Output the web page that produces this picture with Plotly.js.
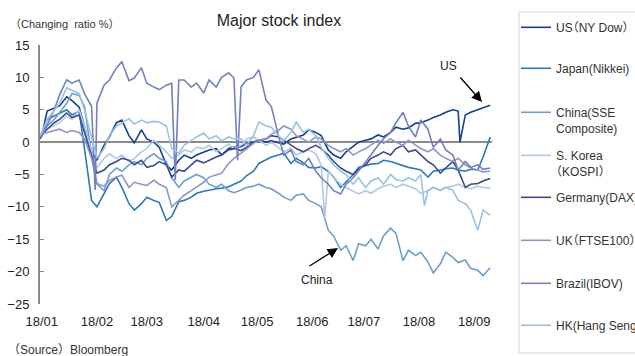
<!DOCTYPE html>
<html><head><meta charset="utf-8">
<script src="https://cdn.plot.ly/plotly-3.0.1.min.js"></script>
<style>body{margin:0;padding:0;background:#fff}#chart{width:635px;height:356px}</style>
</head><body><div id="chart"></div>
<script>
const dates = ['2018-01-01','2018-01-02','2018-01-05','2018-01-09','2018-01-12','2018-01-16','2018-01-19','2018-01-23','2018-01-26','2018-01-30',
'2018-02-02','2018-02-06','2018-02-09','2018-02-13','2018-02-16','2018-02-20','2018-02-23','2018-02-27','2018-03-02','2018-03-06',
'2018-03-09','2018-03-13','2018-03-16','2018-03-20','2018-03-23','2018-03-27','2018-03-30','2018-04-03','2018-04-06','2018-04-10',
'2018-04-13','2018-04-17','2018-04-20','2018-04-24','2018-04-27','2018-05-01','2018-05-04','2018-05-08','2018-05-11','2018-05-15',
'2018-05-18','2018-05-22','2018-05-25','2018-05-29','2018-06-01','2018-06-05','2018-06-08','2018-06-12','2018-06-15','2018-06-19',
'2018-06-22','2018-06-26','2018-06-29','2018-07-03','2018-07-06','2018-07-10','2018-07-13','2018-07-17','2018-07-20','2018-07-24',
'2018-07-27','2018-07-31','2018-08-03','2018-08-07','2018-08-10','2018-08-14','2018-08-17','2018-08-21','2018-08-24','2018-08-28',
'2018-08-31','2018-09-04','2018-09-07','2018-09-11'];

const us = [0.5, 1.0, 4.8, 5.3, 5.6, 7.0, 6.4, 5.4, 2.6, -1.5,
 -2.8, -0.5, 0.8, 3.0, 3.4, 1.0, -0.1, 1.9, 0.5, 0.0,
 -0.8, -3.5, -4.3, -2.8, -2.0, -2.5, -2.0, -1.5, -1.2, -1.0,
 -2.0, -1.0, -0.8, -0.7, -0.2, 0.0, 0.3, 0.0, 0.2, -0.1,
 -0.3, 0.5, 0.8, 1.1, 1.9, 1.5, 1.0, -1.2, -2.0, -2.5,
 -1.5, -0.7, 0.0, 0.3, 0.5, 1.1, 0.8, 1.5, 2.3, 2.0,
 2.2, 2.9, 3.0, 3.4, 3.8, 4.2, 4.6, 5.0, 4.8, 4.2,
 4.6, 5.0, 5.3, 5.7];
const japan = [0.8, 1.0, 3.5, 4.0, 4.5, 5.0, 4.2, 4.8, -1.0, -9.0,
 -10.0, -7.9, -6.4, -5.4, -7.0, -9.5, -10.5, -9.5, -8.5, -9.0,
 -9.3, -12.1, -11.5, -9.2, -9.0, -8.5, -7.9, -7.6, -7.4, -7.2,
 -7.1, -6.9, -6.5, -6.0, -5.2, -4.5, -3.3, -2.8, -2.3, -2.0,
 -1.7, -3.3, -2.5, -3.2, -3.9, -4.0, -3.8, -4.5, -5.4, -7.0,
 -6.2, -5.0, -3.9, -3.6, -3.4, -3.3, -2.8, -3.0, -3.3, -3.6,
 -3.9, -4.1, -4.3, -5.4, -4.5, -4.3, -4.1, -4.0, -4.3, -4.5,
 -4.2, -4.3, -2.3, 0.8];
const china = [0.8, 1.2, 2.5, 3.5, 4.5, 6.0, 7.5, 7.2, 5.5, -2.0,
 -6.5, -7.5, -5.0, -4.0, -4.5, -3.5, -3.0, -3.5, -2.5, -1.8,
 -2.5, -3.0, -5.5, -7.0, -6.0, -5.5, -5.0, -5.5, -6.5, -7.0,
 -6.5, -7.5, -7.8, -7.4, -7.0, -6.8, -6.5, -7.0, -7.2, -7.9,
 -8.5, -9.0, -8.2, -8.0, -9.0, -9.5, -10.0, -13.6, -14.5, -16.7,
 -16.0, -18.3, -15.7, -16.0, -15.0, -16.5, -14.5, -13.3, -14.1, -18.3,
 -16.7, -17.5, -17.0, -18.5, -20.2, -18.8, -17.0, -17.8, -18.6, -18.2,
 -19.5, -19.8, -20.6, -19.4];
const korea = [1.0, 1.5, 2.0, 2.5, 3.0, 4.0, 3.5, 5.0, 2.5, -1.5,
 -4.0, -2.5, -1.8, -2.5, -2.0, -3.0, -2.5, -1.5, -1.0, 0.3,
 -0.5, -1.5, -2.5, -2.0, -1.2, -1.5, -0.8, -1.0, -0.5, -1.5,
 -1.0, -0.3, -1.0, -0.5, 0.5, 0.8, 0.3, -0.5, 0.0, -0.8,
 -1.5, -1.0, -2.0, -1.5, -1.2, -1.8, -3.5, -4.5, -5.5, -6.5,
 -7.0, -7.5, -8.0, -7.5, -7.9, -7.2, -6.8, -6.5, -7.0, -6.5,
 -6.8, -7.2, -7.9, -7.5, -7.0, -7.5, -7.0, -6.8, -6.5, -7.0,
 -7.2, -6.8, -7.0, -7.1];
const germany = [0.8, 1.0, 2.0, 3.0, 3.5, 4.5, 3.8, 4.2, 1.5, -2.0,
 -4.8, -4.3, -3.5, -3.0, -2.5, -2.8, -3.5, -2.8, -3.9, -3.6,
 -3.0, -3.5, -5.4, -4.3, -4.5, -3.5, -2.8, -3.2, -2.8, -2.3,
 -2.0, -1.2, -1.0, -1.3, -0.8, 0.0, 0.3, 0.5, 1.0, 0.8,
 0.3, -0.5, -1.0, -1.5, -1.0, -0.5, -1.0, -2.0, -3.0, -4.0,
 -4.5, -5.0, -4.2, -3.5, -2.5, -2.0, -1.5, -2.0, -1.0, -0.5,
 -1.5, -1.2, -2.0, -3.0, -3.5, -4.8, -4.0, -3.0, -4.3, -7.0,
 -6.5, -6.4, -6.0, -5.6];
const uk = [0.8, 1.2, 1.5, 1.8, 2.0, 1.5, 1.8, 1.5, 0.5, -2.5,
 -6.4, -6.8, -5.9, -5.4, -5.1, -7.0, -6.2, -6.5, -6.7, -5.9,
 -6.5, -7.0, -10.0, -9.0, -8.2, -7.5, -7.0, -6.2, -5.4, -5.0,
 -4.8, -3.3, -2.5, -1.7, -1.0, -0.2, 0.3, 0.5, 1.2, 1.8,
 2.5, 2.0, 1.0, 0.5, 0.0, 0.8, 0.5, -0.5, -1.0, -1.5,
 -1.0, -2.0, -1.5, -1.0, -0.5, 0.3, -0.2, 0.5, 0.0, -0.5,
 0.3, -0.5, -1.0, -1.5, -1.0, -2.0, -2.5, -3.0, -2.5, -3.5,
 -4.0, -4.3, -4.6, -4.5];
const brazil = [0.8, 1.0, 2.6, 5.0, 7.3, 9.6, 9.1, 9.6, 7.5, 5.5,
 6.0, 8.8, 9.6, 11.5, 12.4, 9.5, 9.9, 11.5, 9.1, 8.5,
 8.1, 8.8, 9.1, 9.6, 9.6, 8.5, 9.1, 7.6, 9.6, 8.5,
 10.0, 10.7, 9.9, 8.5, 9.6, 10.0, 11.2, 6.5, 5.5, 1.0,
 -2.0, -1.2, -3.0, -3.5, -2.5, -4.5, -5.5, -6.5, -7.5, -8.0,
 -6.5, -5.5, -4.5, -3.0, -2.0, -0.5, 0.5, 1.5, 3.0, 4.6,
 2.5, 0.8, 3.4, 2.0, -0.8, 0.5, -1.2, -2.0, -4.3, -3.0,
 -3.9, -3.5, -4.2, -4.0];
const hk = [1.0, 1.5, 3.5, 5.0, 6.0, 8.4, 8.0, 7.5, 5.0, 0.5,
 -2.5, -1.0, 1.0, 2.5, 3.0, 3.6, 2.8, 3.4, 3.0, 3.2,
 3.1, 2.5, -1.0, -1.7, -0.5, 0.3, 0.8, 1.4, 0.5, 1.0,
 0.2, 0.8, 0.5, 0.5, -0.5, 1.0, 3.1, 2.5, 2.3, 1.0,
 0.2, 1.5, 3.1, 1.5, 2.0, 1.0, -0.8, -2.5, -3.5, -4.5,
 -5.0, -6.5, -5.5, -7.0, -6.0, -5.5, -6.5, -5.0, -5.8, -6.0,
 -5.5, -6.0, -5.0, -7.5, -7.0, -7.4, -7.0, -7.4, -9.0, -9.5,
 -10.5, -13.6, -10.5, -11.3];

// one-day spikes (holiday gaps) seen in the picture
const usSpikeDates = ['2018-08-25'];           const usSpikeVals = [0.0];
const brazilSpikeDates = ['2018-02-01','2018-03-18','2018-04-22']; const brazilSpikeVals = [-7.4, -5.9, -2.8];
const koreaSpikeDates = ['2018-06-10'];        const koreaSpikeVals = [-11.8];
const hkSpikeDates = ['2018-08-05'];           const hkSpikeVals = [-9.8];

const LP = `<span style="font-feature-settings:'halt'">（</span>`, RP = `<span style="font-feature-settings:'halt'">）</span>`;
const seriesNames = ['US'+LP+'NY Dow'+RP, 'Japan(Nikkei)', 'China(SSE<br>Composite)', 'S. Korea<br>'+LP+'KOSPI'+RP,
                     'Germany(DAX)', 'UK'+LP+'FTSE100'+RP, 'Brazil(IBOV)', 'HK(Hang Seng)'];
const tickVals = ['2018-01-02','2018-02-02','2018-03-02','2018-04-03','2018-05-03','2018-06-03','2018-07-02','2018-08-02','2018-09-02'];
const tickText = ['18/01','18/02','18/03','18/04','18/05','18/06','18/07','18/08','18/09'];

const colors = ['#153F8C','#2F78B7','#6F9ECB','#B0CAE5','#3C4A8C','#8F95CA','#7481BF','#98C1E6'];
const legendCenters = [27,68,112,155,197,240,283,325];

function build(vals, sd, sv){
  const pts = dates.map((d,i)=>[d, vals[i]]);
  sd.forEach((d,i)=>pts.push([d, sv[i]]));
  pts.sort((a,b)=> a[0]<b[0]?-1:(a[0]>b[0]?1:0));
  return {x: pts.map(p=>p[0]), y: pts.map(p=>p[1])};
}
const all = [
  build(us, usSpikeDates, usSpikeVals),
  build(japan, [], []),
  build(china, [], []),
  build(korea, koreaSpikeDates, koreaSpikeVals),
  build(germany, [], []),
  build(uk, [], []),
  build(brazil, brazilSpikeDates, brazilSpikeVals),
  build(hk, hkSpikeDates, hkSpikeVals)
];

const PL=40, PR=492, PT=45, PB=304;
const px = v => (v-PL)/(PR-PL);
const py = v => (PB-v)/(PB-PT);
const FONT = 'Liberation Sans, Arial, Noto Sans CJK JP, sans-serif';

const traces = all.map((s,i)=>({
  type:'scatter', mode:'lines', x:s.x, y:s.y, name:seriesNames[i],
  line:{color:colors[i], width:1.6},
  legend: i===0 ? 'legend' : 'legend'+(i+1),
  hoverinfo:'skip'
}));

const layout = {
  width:635, height:356,
  margin:{l:PL, r:635-PR, t:PT, b:356-PB, autoexpand:false},
  paper_bgcolor:'#fff', plot_bgcolor:'#fff',
  font:{family:FONT, size:12, color:'#333'},
  title:{text:'Major stock index', font:{family:FONT, size:16, color:'#222'},
         x:279/635, xanchor:'center', xref:'container', y:1-20/356, yanchor:'middle', yref:'container'},
  xaxis:{type:'date', range:['2018-01-01','2018-09-12'], tickmode:'array', tickvals:tickVals, ticktext:tickText,
         showgrid:false, showline:false, zeroline:false, ticks:'', tickfont:{size:13, color:'#222'}, ticklabelstandoff:8,
         automargin:false},
  yaxis:{range:[-25,15], dtick:5, tick0:0, showgrid:false, showline:true, linecolor:'#8a8a8a', linewidth:2,
         ticks:'inside', ticklen:4, tickcolor:'#8a8a8a', tickwidth:1, automargin:false,
         zeroline:true, zerolinecolor:'#8a8a8a', zerolinewidth:2, tickfont:{size:13, color:'#222'}, ticklabelstandoff:6},
  showlegend:true,
  shapes:[{type:'rect', xref:'paper', yref:'paper', x0:px(519), x1:px(645), y0:py(353), y1:py(12),
           line:{color:'#d4d4d4', width:1}, fillcolor:'rgba(0,0,0,0)', layer:'below'}],
  annotations:[
    {xref:'paper', yref:'paper', x:px(8), y:py(24), xanchor:'left', yanchor:'middle', showarrow:false,
     text:'（Changing  ratio %）', font:{size:11, color:'#333'}},
    {xref:'paper', yref:'paper', x:px(6), y:py(350), xanchor:'left', yanchor:'middle', showarrow:false,
     text:'（Source）Bloomberg', font:{size:12, color:'#333'}},
    {xref:'paper', yref:'paper', x:px(448), y:py(66), xanchor:'center', yanchor:'middle', showarrow:false,
     text:'US', font:{size:12, color:'#222'}},
    {xref:'paper', yref:'paper', x:px(317), y:py(280), xanchor:'center', yanchor:'middle', showarrow:false,
     text:'China', font:{size:12, color:'#222'}},
    {xref:'paper', yref:'paper', x:px(482), y:py(102), text:'', showarrow:true, ax:-23, ay:-26,
     arrowhead:2, arrowsize:1.6, arrowwidth:1.3, arrowcolor:'#000'},
    {xref:'paper', yref:'paper', x:px(338), y:py(248), text:'', showarrow:true, ax:-30, ay:19,
     arrowhead:2, arrowsize:1.6, arrowwidth:1.3, arrowcolor:'#000'}
  ]
};
legendCenters.forEach((c,i)=>{
  const key = i===0 ? 'legend' : 'legend'+(i+1);
  layout[key] = {x:px(516), xanchor:'left', y:py(c-14), yanchor:'top', bgcolor:'rgba(0,0,0,0)',
                 borderwidth:0, valign:'top', font:{family:FONT, size:12, color:'#333'}};
});

Plotly.newPlot('chart', traces, layout, {staticPlot:true, displayModeBar:false});
</script></body></html>
